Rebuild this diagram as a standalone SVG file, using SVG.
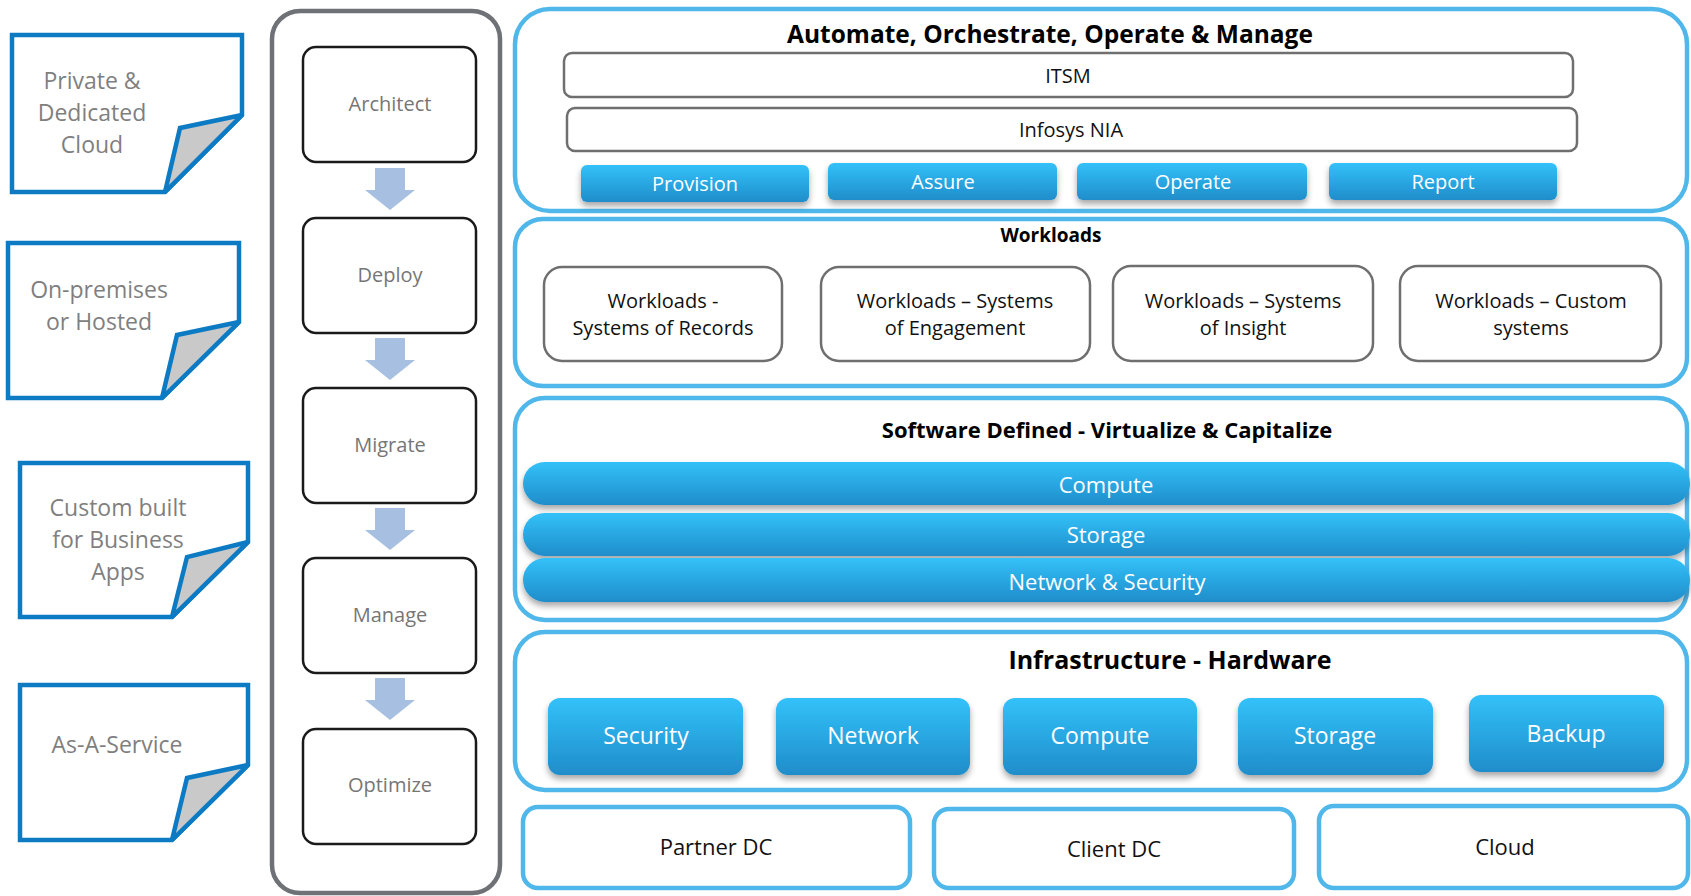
<svg xmlns="http://www.w3.org/2000/svg" width="1691" height="896" viewBox="0 0 1691 896">
<defs>
<linearGradient id="btn" x1="0" y1="0" x2="0" y2="1"><stop offset="0" stop-color="#33c1f9"/><stop offset="1" stop-color="#1f8dca"/></linearGradient>
<filter id="sh" x="-5%" y="-20%" width="110%" height="170%"><feDropShadow dx="0" dy="4" stdDeviation="3" flood-color="#000" flood-opacity="0.35"/></filter>
</defs>
<style>
.t{font-family:"Open Sans","Liberation Sans",sans-serif;text-anchor:middle}
.note{fill:#fff;stroke:#0c7bc4;stroke-width:4.5;stroke-linejoin:miter;stroke-miterlimit:1.5}
.flap{fill:#c9c9c9;stroke:#0c7bc4;stroke-width:4.5;stroke-linejoin:miter;stroke-miterlimit:1.5}
.nt{fill:#7f7f7f;font-size:23px}
.proc{fill:#fff;stroke:#1a1a1a;stroke-width:2.5}
.pt{fill:#767676;font-size:20px}
.panel{fill:#fff;stroke:#4fb7e9;stroke-width:4.5}
.box{fill:#fff;stroke:#6f6f6f;stroke-width:2.5}
.btn{fill:url(#btn);filter:url(#sh)}
.bt{fill:#fff}
.bk{fill:#111}
.title{font-weight:700;fill:#000}
.arrow{fill:#a7bfe1}
</style>

<!-- Left notes -->
<g id="note-private">
<polygon class="note" points="12,35 242,35 242,115 165,192 12,192"/>
<polygon class="flap" points="242,115 180,128 165,192"/>
<text class="t nt" x="92" y="89">Private &amp;</text>
<text class="t nt" x="92" y="121">Dedicated</text>
<text class="t nt" x="92" y="153">Cloud</text>
</g>
<g id="note-onprem">
<polygon class="note" points="8,243 239,243 239,322 162,398 8,398"/>
<polygon class="flap" points="239,322 177,335 162,398"/>
<text class="t nt" x="99" y="298">On-premises</text>
<text class="t nt" x="99" y="330">or Hosted</text>
</g>
<g id="note-custom">
<polygon class="note" points="20,463 248,463 248,542 172,617 20,617"/>
<polygon class="flap" points="248,542 187,557 172,617"/>
<text class="t nt" x="118" y="516">Custom built</text>
<text class="t nt" x="118" y="548">for Business</text>
<text class="t nt" x="118" y="580">Apps</text>
</g>
<g id="note-service">
<polygon class="note" points="20,685 248,685 248,765 172,840 20,840"/>
<polygon class="flap" points="248,765 187,778 172,840"/>
<text class="t nt" x="117" y="753">As-A-Service</text>
</g>

<!-- Process column -->
<g id="process-container">
<rect x="272" y="11" width="228" height="882" rx="28" fill="#fff" stroke="#6e7175" stroke-width="4.5"/>
</g>
<g id="step-architect"><rect class="proc" x="303" y="47" width="173" height="115" rx="13"/><text class="t pt" x="390" y="111">Architect</text></g>
<g id="step-deploy"><rect class="proc" x="303" y="218" width="173" height="115" rx="13"/><text class="t pt" x="390" y="282">Deploy</text></g>
<g id="step-migrate"><rect class="proc" x="303" y="388" width="173" height="115" rx="13"/><text class="t pt" x="390" y="452">Migrate</text></g>
<g id="step-manage"><rect class="proc" x="303" y="558" width="173" height="115" rx="13"/><text class="t pt" x="390" y="622">Manage</text></g>
<g id="step-optimize"><rect class="proc" x="303" y="729" width="173" height="115" rx="13"/><text class="t pt" x="390" y="792">Optimize</text></g>

<g id="connectors">
<polygon class="arrow" points="375,168 405,168 405,190 415,190 390,210 365,190 375,190"/>
<polygon class="arrow" points="375,338 405,338 405,360 415,360 390,380 365,360 375,360"/>
<polygon class="arrow" points="375,508 405,508 405,530 415,530 390,550 365,530 375,530"/>
<polygon class="arrow" points="375,678 405,678 405,700 415,700 390,720 365,700 375,700"/>
</g>

<!-- Automate panel -->
<g id="panel-automate">
<rect class="panel" x="515" y="9" width="1172" height="202" rx="35"/>
<text class="t title" x="1050" y="43" font-size="24.5">Automate, Orchestrate, Operate &amp; Manage</text>
</g>
<g id="itsm"><rect class="box" x="564" y="53" width="1009" height="44" rx="8"/><text class="t bk" x="1068" y="83" font-size="20">ITSM</text></g>
<g id="infosys-nia"><rect class="box" x="567" y="108" width="1010" height="43" rx="8"/><text class="t bk" x="1071" y="137" font-size="20">Infosys NIA</text></g>
<g id="btn-provision"><rect class="btn" x="581" y="165" width="228" height="37" rx="6"/><text class="t bt" x="695" y="191" font-size="20">Provision</text></g>
<g id="btn-assure"><rect class="btn" x="828" y="163" width="229" height="37" rx="6"/><text class="t bt" x="943" y="189" font-size="20">Assure</text></g>
<g id="btn-operate"><rect class="btn" x="1077" y="163" width="230" height="37" rx="6"/><text class="t bt" x="1193" y="189" font-size="20">Operate</text></g>
<g id="btn-report"><rect class="btn" x="1329" y="163" width="228" height="37" rx="6"/><text class="t bt" x="1443" y="189" font-size="20">Report</text></g>

<!-- Workloads panel -->
<g id="panel-workloads">
<rect class="panel" x="515" y="219" width="1172" height="167" rx="28"/>
<text class="t title" x="1051" y="242" font-size="19">Workloads</text>
</g>
<g id="wl-records"><rect class="box" x="544" y="267" width="238" height="94" rx="18"/><text class="t bk" x="663" y="308" font-size="20">Workloads -</text><text class="t bk" x="663" y="335" font-size="20">Systems of Records</text></g>
<g id="wl-engagement"><rect class="box" x="821" y="267" width="269" height="94" rx="18"/><text class="t bk" x="955" y="308" font-size="20">Workloads – Systems</text><text class="t bk" x="955" y="335" font-size="20">of Engagement</text></g>
<g id="wl-insight"><rect class="box" x="1113" y="266" width="260" height="95" rx="18"/><text class="t bk" x="1243" y="308" font-size="20">Workloads – Systems</text><text class="t bk" x="1243" y="335" font-size="20">of Insight</text></g>
<g id="wl-custom"><rect class="box" x="1400" y="266" width="261" height="95" rx="18"/><text class="t bk" x="1531" y="308" font-size="20">Workloads – Custom</text><text class="t bk" x="1531" y="335" font-size="20">systems</text></g>

<!-- Software defined panel -->
<g id="panel-software">
<rect class="panel" x="515" y="398" width="1172" height="222" rx="30"/>
<text class="t title" x="1107" y="438" font-size="22">Software Defined - Virtualize &amp; Capitalize</text>
</g>
<g id="bar-compute"><rect class="btn" x="523" y="462" width="1167" height="43" rx="21.5"/><text class="t bt" x="1106" y="493" font-size="22">Compute</text></g>
<g id="bar-storage"><rect class="btn" x="523" y="513" width="1167" height="43" rx="21.5"/><text class="t bt" x="1106" y="543" font-size="22">Storage</text></g>
<g id="bar-network"><rect class="btn" x="523" y="558" width="1167" height="44" rx="22"/><text class="t bt" x="1107" y="590" font-size="22">Network &amp; Security</text></g>

<!-- Infrastructure panel -->
<g id="panel-infra">
<rect class="panel" x="515" y="632" width="1172" height="158" rx="30"/>
<text class="t title" x="1170" y="669" font-size="25">Infrastructure - Hardware</text>
</g>
<g id="hw-security"><rect class="btn" x="548" y="698" width="195" height="77" rx="12"/><text class="t bt" x="646" y="744" font-size="23">Security</text></g>
<g id="hw-network"><rect class="btn" x="776" y="698" width="194" height="77" rx="12"/><text class="t bt" x="873" y="744" font-size="23">Network</text></g>
<g id="hw-compute"><rect class="btn" x="1003" y="698" width="194" height="77" rx="12"/><text class="t bt" x="1100" y="744" font-size="23">Compute</text></g>
<g id="hw-storage"><rect class="btn" x="1238" y="698" width="195" height="77" rx="12"/><text class="t bt" x="1335" y="744" font-size="23">Storage</text></g>
<g id="hw-backup"><rect class="btn" x="1469" y="695" width="195" height="77" rx="12"/><text class="t bt" x="1566" y="742" font-size="23">Backup</text></g>

<!-- Bottom locations -->
<g id="loc-partner"><rect class="panel" x="523" y="807" width="387" height="81" rx="15"/><text class="t bk" x="716" y="855" font-size="22">Partner DC</text></g>
<g id="loc-client"><rect class="panel" x="934" y="809" width="360" height="79" rx="15"/><text class="t bk" x="1114" y="857" font-size="22">Client DC</text></g>
<g id="loc-cloud"><rect class="panel" x="1319" y="806" width="369" height="82" rx="15"/><text class="t bk" x="1505" y="855" font-size="22">Cloud</text></g>
</svg>
